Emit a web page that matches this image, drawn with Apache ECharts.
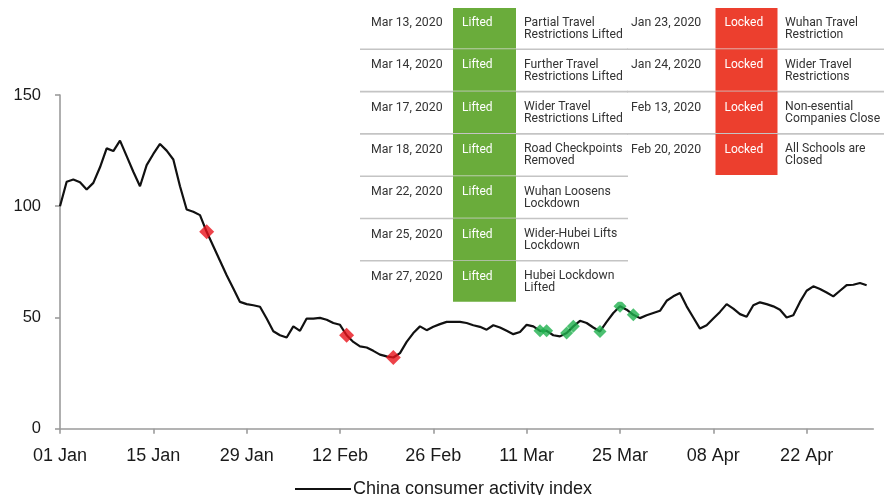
<!DOCTYPE html>
<html>
<head>
<meta charset="utf-8">
<script src="https://cdn.jsdelivr.net/npm/echarts@6/dist/echarts.min.js"></script>
<style>
  html, body { margin: 0; padding: 0; background: #ffffff; }
  #chart { width: 884px; height: 495px; }
</style>
</head>
<body>
<div id="chart"></div>
<script>
// ---------- data ----------
const seriesName = 'China consumer activity index';
const startYear = 2020;
const dayCount = 123; // 01 Jan .. 02 May (axis extent)
const monthNames = ['Jan','Feb','Mar','Apr','May','Jun','Jul','Aug','Sep','Oct','Nov','Dec'];

// daily index values, 01 Jan .. 01 May 2020
const activityIndex = [
  100, 111, 112, 110.8, 107.5, 110.5, 117.5, 126, 124.8, 129.5,
  122.5, 115.5, 109, 118.5, 123.5, 128, 125, 121, 109, 98.5,
  97.5, 96, 88.5, 82, 75.5, 69, 63, 57, 56, 55.5,
  54.8, 49.5, 43.8, 42, 41, 46, 44, 49.5, 49.5, 49.8,
  49, 47.5, 46.7, 42, 39, 37, 36.5, 35, 33.3, 32.5,
  32, 34, 39, 43, 46, 44.3, 45.8, 47, 48, 48,
  48, 47.5, 46.5, 45.8, 44.5, 46.5, 45.5, 44, 42.5, 43.5,
  46.7, 46, 44, 44, 42, 41.5, 43, 46, 48.5, 47.5,
  45.5, 43.7, 48, 52, 55, 53.5, 51.2, 49.7, 51, 52,
  53, 57.5, 59.5, 61, 55, 50, 45, 46.5, 49.5, 52.5,
  56, 54, 51.5, 50.3, 55.5, 56.8, 56, 55, 53.5, 50,
  51, 57, 62, 64, 62.8, 61.2, 59.5, 62, 64.5, 64.7,
  65.5, 64.5
];

const yTicks = [0, 50, 100, 150];

const liftedDates = ['Mar 13, 2020','Mar 14, 2020','Mar 17, 2020','Mar 18, 2020','Mar 22, 2020','Mar 25, 2020','Mar 27, 2020'];
const liftedNotes = ['Partial Travel\nRestrictions Lifted','Further Travel\nRestrictions Lifted','Wider Travel\nRestrictions Lifted','Road Checkpoints\nRemoved','Wuhan Loosens\nLockdown','Wider-Hubei Lifts\nLockdown','Hubei Lockdown\nLifted'];
const liftedLabel = 'Lifted';

const lockedDates = ['Jan 23, 2020','Jan 24, 2020','Feb 13, 2020','Feb 20, 2020'];
const lockedNotes = ['Wuhan Travel\nRestriction','Wider Travel\nRestrictions','Non-esential\nCompanies Close','All Schools are\nClosed'];
const lockedLabel = 'Locked';
// red diamonds drawn on the line in the picture
const lockedMarkerDates = ['Jan 23, 2020','Feb 13, 2020','Feb 20, 2020'];

// ---------- helpers ----------
function pad(n) { return (n < 10 ? '0' : '') + n; }
const categories = [];
for (let i = 0; i < dayCount; i++) {
  const d = new Date(Date.UTC(startYear, 0, 1 + i));
  categories.push(pad(d.getUTCDate()) + ' ' + monthNames[d.getUTCMonth()]);
}
function dayIndex(s) {
  const parts = s.replace(',', '').split(' ');
  const m = monthNames.indexOf(parts[0]);
  return Math.round((Date.UTC(+parts[2], m, +parts[1]) - Date.UTC(startYear, 0, 1)) / 864e5);
}
function eventPoints(dates) {
  return dates.map(function (s) { const i = dayIndex(s); return [i, activityIndex[i]]; });
}

// ---------- table (annotation) ----------
const FONT = 'Roboto, "Liberation Sans", sans-serif';
function buildTable(dates, notes, label, color, geo) {
  const els = [];
  const rowH = 42.3, firstC = 23;
  const n = dates.length;
  const tableBottom = firstC + rowH * (n - 1) + 25;
  els.push({ type: 'rect', z: 100, shape: { x: geo.x1, y: 2, width: geo.x2 - geo.x1, height: tableBottom - 2 }, style: { fill: '#ffffff' } });
  for (let i = 0; i < n - 1; i++) {
    const y = firstC + 26.3 + rowH * i;
    els.push({ type: 'line', z: 101, shape: { x1: geo.x1, y1: y, x2: geo.x2, y2: y }, style: { stroke: '#c4c4c4', lineWidth: 1.6 } });
  }
  for (let i = 0; i < n; i++) {
    const c = firstC + rowH * i;
    const top = i === 0 ? 8 : c - 16;
    const bottom = i === n - 1 ? tableBottom : c + 26.3 - 0.8;
    els.push({ type: 'rect', z: 102, shape: { x: geo.colX, y: top, width: geo.colW, height: bottom - top }, style: { fill: color } });
    els.push({ type: 'text', z: 103, style: { text: dates[i], x: geo.dateX, y: c, verticalAlign: 'middle', fill: '#333333', font: '12.3px ' + FONT } });
    els.push({ type: 'text', z: 103, style: { text: label, x: geo.colX + 9, y: c, verticalAlign: 'middle', fill: '#ffffff', font: '12px ' + FONT } });
    els.push({ type: 'text', z: 103, style: { text: notes[i], x: geo.noteX, y: c - 6.5, verticalAlign: 'top', lineHeight: 12, fill: '#333333', font: '12.2px ' + FONT } });
  }
  return els;
}
const graphics = [].concat(
  buildTable(liftedDates, liftedNotes, liftedLabel, '#6aac3b', { x1: 360, x2: 628, dateX: 371, colX: 453, colW: 63, noteX: 524 }),
  buildTable(lockedDates, lockedNotes, lockedLabel, '#ec3f2e', { x1: 627, x2: 884, dateX: 631, colX: 715.5, colW: 62, noteX: 785 })
);

// ---------- chart ----------
const chart = echarts.init(document.getElementById('chart'), null, { renderer: 'canvas' });
const axisGray = '#9b9b9b';
const AXFONT = '"Liberation Sans", Arial, sans-serif';
chart.setOption({
  animation: false,
  backgroundColor: '#ffffff',
  grid: { left: 60, right: 10.7, top: 95, bottom: 66.3, containLabel: false },
  legend: {
    data: [{ name: seriesName, icon: 'rect' }],
    left: 290, top: 475,
    itemWidth: 56, itemHeight: 2, itemGap: 5,
    textStyle: { fontSize: 18, color: '#1a1a1a', fontFamily: AXFONT, padding: [0, 0, 0, -3] }
  },
  xAxis: {
    type: 'category',
    data: categories,
    boundaryGap: false,
    axisLine: { lineStyle: { color: axisGray, width: 1.6 } },
    axisTick: { show: true, interval: 13, length: 5, lineStyle: { color: axisGray, width: 1.6 } },
    axisLabel: { interval: 13, fontSize: 18, color: '#1a1a1a', margin: 18, fontFamily: AXFONT },
    splitLine: { show: false }
  },
  yAxis: {
    type: 'value',
    min: yTicks[0], max: yTicks[yTicks.length - 1], interval: yTicks[1] - yTicks[0],
    axisLine: { show: true, lineStyle: { color: axisGray, width: 1.6 } },
    axisTick: { show: true, length: 5, lineStyle: { color: axisGray, width: 1.6 } },
    axisLabel: { fontSize: 16.5, color: '#1a1a1a', margin: 19, fontFamily: AXFONT },
    splitLine: { show: false }
  },
  series: [
    {
      name: seriesName, type: 'line', data: activityIndex,
      symbol: 'none', lineStyle: { color: '#111111', width: 2.2 }, itemStyle: { color: '#111111' }, z: 3
    },
    {
      name: 'Locked', type: 'scatter', data: eventPoints(lockedMarkerDates),
      symbol: 'diamond', symbolSize: 15, itemStyle: { color: '#e8131b' }, z: 4
    },
    {
      name: 'Lifted', type: 'scatter', data: eventPoints(liftedDates),
      symbol: 'diamond', symbolSize: 13, itemStyle: { color: '#1fb04d' }, z: 4
    }
  ],
  graphic: graphics
});
</script>
</body>
</html>
